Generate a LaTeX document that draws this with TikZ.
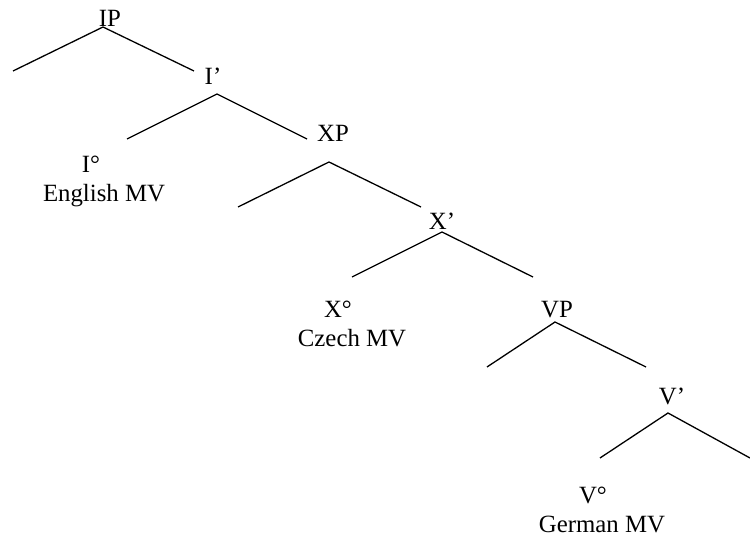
\documentclass[tikz,border=0pt]{standalone}
\usepackage{fontspec}
\setmainfont{Liberation Serif}
\usepackage{tikz}
\usetikzlibrary{positioning}

\tikzset{
    label/.style={anchor=base, inner sep=0pt, font=\fontsize{12.4}{14}\selectfont},
    branch/.style={line width=0.65pt}
}

\begin{document}
\begin{tikzpicture}[x=0.5pt, y=-0.5pt]
                \useasboundingbox (0,0) rectangle (750,539);

                % Nodes
                \node[label] at (110,27) (ip) {IP};
                \node[label] at (213,85) (ibar) {I’};
                \node[label] at (91,173) (ihead) {I°};
                \node[label] at (104,202) (english) {English MV};
                \node[label] at (333,142) (xp) {XP};
                \node[label] at (442,230) (xbar) {X’};
                \node[label] at (338,318) (xhead) {X°};
                \node[label] at (352,347) (czech) {Czech MV};
                \node[label] at (557,318) (vp) {VP};
                \node[label] at (672,405) (vbar) {V’};
                \node[label] at (593,504) (vhead) {V°};
                \node[label] at (602,533) (german) {German MV};

                % Branch points
                \coordinate (ip-top) at (103,27);
                \coordinate (ip-l) at (13,71);
                \coordinate (ip-r) at (194,71);
                \coordinate (ibar-top) at (217,94);
                \coordinate (ibar-l) at (127,139);
                \coordinate (ibar-r) at (307,139);
                \coordinate (xp-top) at (329,162);
                \coordinate (xp-l) at (238,207);
                \coordinate (xp-r) at (421,207);
                \coordinate (xbar-top) at (442,232);
                \coordinate (xbar-l) at (352,277);
                \coordinate (xbar-r) at (533,277);
                \coordinate (vp-top) at (555,322);
                \coordinate (vp-l) at (487,367);
                \coordinate (vp-r) at (646,367);
                \coordinate (vbar-top) at (668,413);
                \coordinate (vbar-l) at (600,458);
                \coordinate (vbar-r) at (750,458);

                % Branches
                \draw[branch] (ip-l) -- (ip-top) -- (ip-r);
                \draw[branch] (ibar-l) -- (ibar-top) -- (ibar-r);
                \draw[branch] (xp-l) -- (xp-top) -- (xp-r);
                \draw[branch] (xbar-l) -- (xbar-top) -- (xbar-r);
                \draw[branch] (vp-l) -- (vp-top) -- (vp-r);
                \draw[branch] (vbar-l) -- (vbar-top) -- (vbar-r);

\end{tikzpicture}
\end{document}
